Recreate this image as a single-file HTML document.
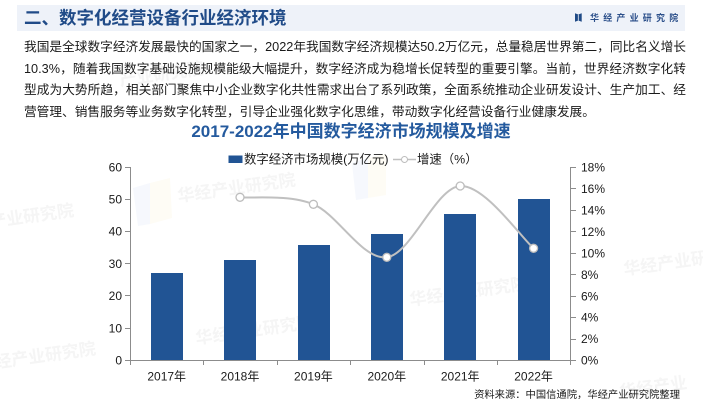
<!DOCTYPE html>
<html>
<head>
<meta charset="utf-8">
<style>
  html,body{margin:0;padding:0;background:#fff;}
  body{width:703px;height:402px;position:relative;overflow:hidden;font-family:"Liberation Sans","Noto Sans CJK SC",sans-serif;}
  .hdr{position:absolute;left:17px;top:5px;width:668px;height:26px;background:#eef2f9;}
  .ttl{position:absolute;left:24px;top:5px;height:26px;line-height:26px;font-size:17.5px;font-weight:bold;color:#204b88;white-space:nowrap;}
  .logo{position:absolute;left:590px;top:5px;height:26px;line-height:26px;font-size:9px;font-weight:bold;color:#2b4f8a;letter-spacing:4.2px;white-space:nowrap;}
  .body{position:absolute;left:24px;top:37px;width:662px;font-size:12.7px;color:#1a1a1a;}
  .ln{height:21.7px;line-height:21.7px;white-space:nowrap;text-align:justify;text-align-last:justify;}
  .ln.last{text-align-last:left;}
  svg{position:absolute;left:0;top:0;}
</style>
</head>
<body>
<svg width="703" height="402" viewBox="0 0 703 402" xmlns="http://www.w3.org/2000/svg">
  <!-- faint watermarks -->
  <g opacity="0.06" font-family="Liberation Sans, Noto Sans CJK SC, sans-serif" font-weight="bold" fill="#555">
    <text x="-10" y="222" font-size="17" transform="rotate(-8 30 222)">产业研究院</text>
    <text x="-5" y="362" font-size="17" transform="rotate(-8 40 362)">经产业研究院</text>
    <text x="178" y="196" font-size="17" transform="rotate(-8 220 196)">华经产业研究院</text>
    <text x="196" y="338" font-size="17" transform="rotate(-8 240 338)">华经产业研究院</text>
    <text x="410" y="300" font-size="17" transform="rotate(-8 450 300)">华经产业研究院</text>
    <text x="624" y="270" font-size="17" transform="rotate(-8 660 270)">华经产业研究</text>
    <text x="620" y="392" font-size="17" transform="rotate(-8 660 392)">华经产业</text>
    <text x="120" y="80" font-size="17" transform="rotate(-8 160 80)">产业研究院</text>
  </g>
  <g opacity="0.05">
    <polygon points="133,188 150,183 150,224 138,226" fill="#4a7fd0"/>
    <polygon points="150,183 170,178 172,218 150,224" fill="#e8c840"/>
    <polygon points="352,163 368,158 368,198 356,200" fill="#4a7fd0"/>
    <polygon points="368,158 386,154 386,195 368,198" fill="#e8c840"/>
  </g>

  <!-- bars -->
  <g fill="#215494">
    <rect x="151" y="273" width="32" height="87.3"/>
    <rect x="224" y="260" width="32" height="100.3"/>
    <rect x="298" y="245" width="32" height="115.3"/>
    <rect x="371" y="234" width="32" height="126.3"/>
    <rect x="444" y="214" width="32" height="146.3"/>
    <rect x="518" y="199" width="32" height="161.3"/>
  </g>

  <!-- axes -->
  <g stroke="#8c8c8c" stroke-width="1" fill="none">
    <line x1="130.5" y1="167" x2="130.5" y2="360.5"/>
    <line x1="570.5" y1="167" x2="570.5" y2="360.5"/>
    <line x1="130" y1="360.5" x2="571" y2="360.5"/>
    <!-- left ticks -->
    <line x1="125" y1="167.5" x2="130" y2="167.5"/>
    <line x1="125" y1="199.5" x2="130" y2="199.5"/>
    <line x1="125" y1="231.5" x2="130" y2="231.5"/>
    <line x1="125" y1="263.5" x2="130" y2="263.5"/>
    <line x1="125" y1="295.5" x2="130" y2="295.5"/>
    <line x1="125" y1="328.5" x2="130" y2="328.5"/>
    <line x1="125" y1="360.5" x2="130" y2="360.5"/>
    <!-- right ticks -->
    <line x1="571" y1="167.5" x2="576" y2="167.5"/>
    <line x1="571" y1="188.5" x2="576" y2="188.5"/>
    <line x1="571" y1="210.5" x2="576" y2="210.5"/>
    <line x1="571" y1="231.5" x2="576" y2="231.5"/>
    <line x1="571" y1="253.5" x2="576" y2="253.5"/>
    <line x1="571" y1="274.5" x2="576" y2="274.5"/>
    <line x1="571" y1="296.5" x2="576" y2="296.5"/>
    <line x1="571" y1="317.5" x2="576" y2="317.5"/>
    <line x1="571" y1="339.5" x2="576" y2="339.5"/>
    <line x1="571" y1="360.5" x2="576" y2="360.5"/>
    <!-- bottom ticks -->
    <line x1="130.5" y1="360" x2="130.5" y2="365"/>
    <line x1="203.5" y1="360" x2="203.5" y2="365"/>
    <line x1="277.5" y1="360" x2="277.5" y2="365"/>
    <line x1="350.5" y1="360" x2="350.5" y2="365"/>
    <line x1="424.5" y1="360" x2="424.5" y2="365"/>
    <line x1="497.5" y1="360" x2="497.5" y2="365"/>
    <line x1="570.5" y1="360" x2="570.5" y2="365"/>
  </g>

  <!-- line series -->
  <path d="M240,197.3 C252.2,198.5 288.9,194.3 313.4,204.3 C337.9,214.3 362.3,260.35 386.8,257.3 C411.3,254.25 435.7,187.5 460.2,186 C484.7,184.5 521.4,237.9 533.6,248.3"
        fill="none" stroke="#c0c0c0" stroke-width="2"/>
  <g fill="#fff" stroke="#bdbdbd" stroke-width="1.3">
    <circle cx="240" cy="197.3" r="4"/>
    <circle cx="313.4" cy="204.3" r="4"/>
    <circle cx="386.8" cy="257.3" r="4"/>
    <circle cx="460.2" cy="186" r="4"/>
    <circle cx="533.6" cy="248.3" r="4"/>
  </g>

  <!-- axis labels -->
  <g font-family="Liberation Sans, Noto Sans CJK SC, sans-serif" font-size="12" fill="#1a1a1a">
    <g text-anchor="end">
      <text x="122" y="171.5">60</text>
      <text x="122" y="203.5">50</text>
      <text x="122" y="235.5">40</text>
      <text x="122" y="268">30</text>
      <text x="122" y="300">20</text>
      <text x="122" y="332.5">10</text>
      <text x="122" y="364.5">0</text>
    </g>
    <g text-anchor="start">
      <text x="581" y="171.5">18%</text>
      <text x="581" y="193">16%</text>
      <text x="581" y="214.5">14%</text>
      <text x="581" y="236">12%</text>
      <text x="581" y="257.5">10%</text>
      <text x="581" y="279">8%</text>
      <text x="581" y="300.5">6%</text>
      <text x="581" y="321.5">4%</text>
      <text x="581" y="343">2%</text>
      <text x="581" y="364.5">0%</text>
    </g>
    <g text-anchor="middle">
      <text x="166.7" y="380.5">2017年</text>
      <text x="240" y="380.5">2018年</text>
      <text x="313.4" y="380.5">2019年</text>
      <text x="386.8" y="380.5">2020年</text>
      <text x="460.2" y="380.5">2021年</text>
      <text x="533.6" y="380.5">2022年</text>
    </g>
  </g>

  <!-- chart title -->
  <text x="351" y="137" text-anchor="middle" font-family="Liberation Sans, Noto Sans CJK SC, sans-serif" font-size="17" font-weight="bold" fill="#245a9e">2017-2022年中国数字经济市场规模及增速</text>

  <!-- legend -->
  <rect x="228.5" y="155.5" width="14" height="7.5" fill="#215494"/>
  <text x="244" y="163.5" font-family="Liberation Sans, Noto Sans CJK SC, sans-serif" font-size="12.4" fill="#1a1a1a">数字经济市场规模(万亿元)</text>
  <line x1="393" y1="159.5" x2="416" y2="159.5" stroke="#c0c0c0" stroke-width="1.5"/>
  <circle cx="404.5" cy="159.5" r="3" fill="#fff" stroke="#bdbdbd" stroke-width="1"/>
  <text x="417" y="163.5" font-family="Liberation Sans, Noto Sans CJK SC, sans-serif" font-size="12.4" fill="#1a1a1a">增速（%）</text>

  <!-- source -->
  <text x="680" y="398" text-anchor="end" font-family="Liberation Sans, Noto Sans CJK SC, sans-serif" font-size="10.3" fill="#1a1a1a">资料来源：中国信通院，华经产业研究院整理</text>
</svg>

<div class="hdr"></div>
<div class="ttl">二、数字化经营设备行业经济环境</div>
<svg width="703" height="40" style="position:absolute;left:0;top:0;">
  <path d="M575,13.3 L577.6,14.3 L579,14.3 L581.7,13.3 L581.7,21.7 L579,20.8 L577.6,20.8 L575,21.7 Z" fill="#1f4a86"/>
  <line x1="578.3" y1="14.3" x2="578.3" y2="20.8" stroke="#eef2f9" stroke-width="0.8"/>
</svg>
<div class="logo">华经产业研究院</div>

<div class="body">
  <div class="ln">我国是全球数字经济发展最快的国家之一，2022年我国数字经济规模达50.2万亿元，总量稳居世界第二，同比名义增长</div>
  <div class="ln">10.3%，随着我国数字基础设施规模能级大幅提升，数字经济成为稳增长促转型的重要引擎。当前，世界经济数字化转</div>
  <div class="ln">型成为大势所趋，相关部门聚焦中小企业数字化共性需求出台了系列政策，全面系统推动企业研发设计、生产加工、经</div>
  <div class="ln last">营管理、销售服务等业务数字化转型，引导企业强化数字化思维，带动数字化经营设备行业健康发展。</div>
</div>
</body>
</html>
